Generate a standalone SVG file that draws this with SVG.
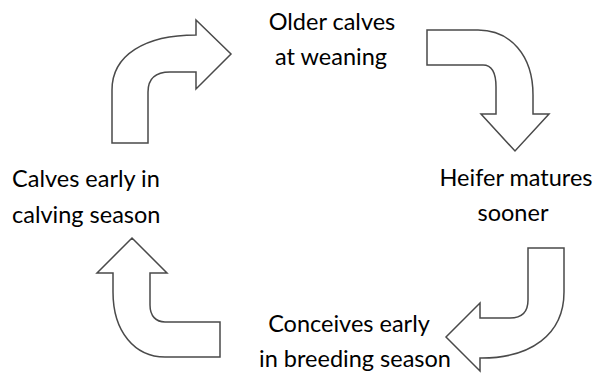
<svg xmlns="http://www.w3.org/2000/svg" width="599" height="375" viewBox="0 0 599 375">
<style>
.arr{fill:#fff;stroke:#4a4a4a;stroke-width:1.5;stroke-linejoin:miter}
.t{font-family:Lato,"Open Sans","Liberation Sans",sans-serif;font-size:23.5px;fill:#000}
.c{text-anchor:middle}
</style>
<rect width="599" height="375" fill="#fff"/>
<g id="connectors">
<path id="arrow-top" class="arr" d="M112,143 V90 C112,55 145,35 196,35 V20 L231,54 L196,89 V72 H170 C155,72 148,79 148,92 V143 Z"/>
<path id="arrow-right" class="arr" d="M427,30 H478 C510,30 533,55 533,95 V114 H549 L515,151 L481,114 H496 V87 C496,73 492,65 483,65 H427 Z"/>
<path id="arrow-bottom" class="arr" d="M528,248 H564 V292 C564,335 530,358 482,358 H480 V371 L446,337 L480,303 V318 H510 C522,318 528,312 528,300 Z"/>
<path id="arrow-left" class="arr" d="M220,322 H165 C156,322 150,316 150,305 V273 H167 L132,238 L97,273 H113 V292 C113,332 135,357 165,357 H220 Z"/>
</g>
<g id="node-older">
<text class="t c" x="332" y="30">Older calves</text>
<text class="t c" x="331" y="65">at weaning</text>
</g>
<g id="node-heifer">
<text class="t c" x="516" y="186">Heifer matures</text>
<text class="t c" x="513" y="221">sooner</text>
</g>
<g id="node-conceives">
<text class="t c" x="349" y="332">Conceives early</text>
<text class="t c" x="355" y="367">in breeding season</text>
</g>
<g id="node-calves">
<text class="t" x="12" y="187">Calves early in</text>
<text class="t" x="12" y="223">calving season</text>
</g>
</svg>
